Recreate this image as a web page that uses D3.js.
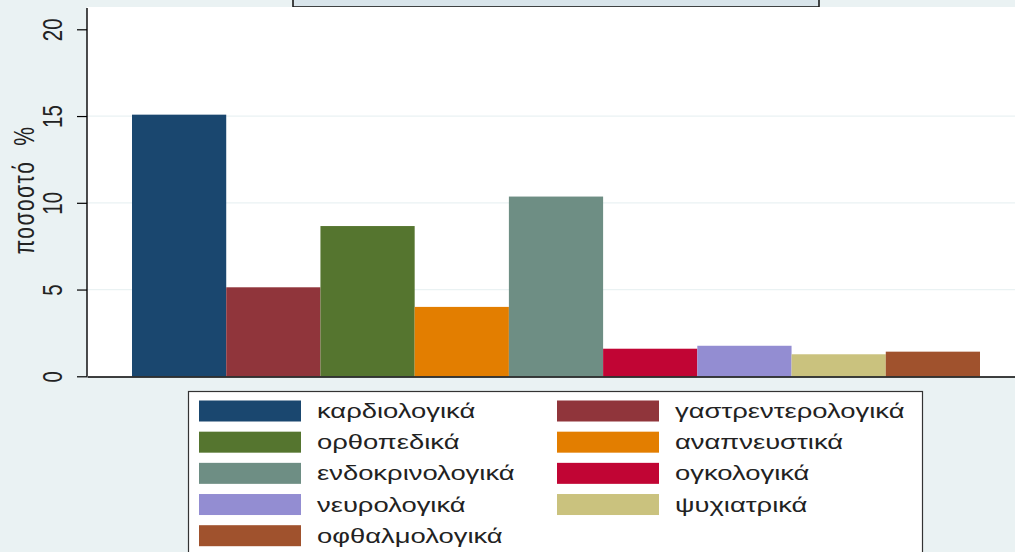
<!DOCTYPE html>
<html><head><meta charset="utf-8">
<script src="https://cdn.jsdelivr.net/npm/d3@7"></script>
<style>body{margin:0;background:#EAF2F3;}svg{display:block;}</style>
</head><body>
<svg id="chart" width="1015" height="552"></svg>
<script>
const categories = ["καρδιολογικά","γαστρεντερολογικά","ορθοπεδικά","αναπνευστικά","ενδοκρινολογικά","ογκολογικά","νευρολογικά","ψυχιατρικά","οφθαλμολογικά"];
const values = [15.08, 5.13, 8.66, 4.0, 10.36, 1.59, 1.76, 1.27, 1.42];
const colors = ["#1A476F","#90353B","#55752F","#E37E00","#6E8E84","#C10534","#938DD2","#CAC27E","#A0522D"];
const yTicks = [0, 5, 10, 15, 20];
const yGrid = [5, 10, 15];
const yTitle = "ποσοστό %";

const svg = d3.select("#chart");
const FONT = "'Liberation Sans', Arial, sans-serif";
const KX = 1.37;

svg.append("rect").attr("width",1015).attr("height",552).attr("fill","#EAF2F3");

// title box (cut off at top)
svg.append("rect").attr("x",293).attr("y",-20).attr("width",526).attr("height",27)
  .attr("fill","#D9E5EB").attr("stroke","#1a1a1a").attr("stroke-width",1.6);

const plotL = 87, plotR = 1015, plotT = 7, plotB = 376.5;
svg.append("rect").attr("x",plotL).attr("y",plotT).attr("width",plotR-plotL).attr("height",plotB-plotT).attr("fill","#fff");

const x = d3.scaleBand().domain(categories).range([132, 980]).padding(0);
const y = d3.scaleLinear().domain([0,20]).range([376.3, 29.3]);

// gridlines
svg.append("g").selectAll("line").data(yGrid).join("line")
  .attr("x1",plotL).attr("x2",plotR).attr("y1",d=>y(d)).attr("y2",d=>y(d))
  .attr("stroke","#EAF2F3").attr("stroke-width",1.2);

// bars
svg.append("g").selectAll("rect").data(categories).join("rect")
  .attr("x",d=>x(d)).attr("width",x.bandwidth())
  .attr("y",(d,i)=>y(values[i])).attr("height",(d,i)=>y(0)-y(values[i]))
  .attr("fill",(d,i)=>colors[i]);

// y axis
const yAxis = d3.axisLeft(y).tickValues(yTicks).tickSize(10).tickPadding(0).tickFormat(d3.format("d"));
const gy = svg.append("g").attr("transform",`translate(${plotL},0)`).call(yAxis);
gy.select(".domain").remove();
gy.selectAll(".tick line").attr("stroke","#000").attr("stroke-width",1.2);
gy.selectAll(".tick text").remove();
gy.selectAll(".tick").append("text")
  .attr("transform",`translate(-35,0) rotate(-90) scale(1,${KX})`)
  .attr("text-anchor","middle").attr("dy","0.35em")
  .attr("fill","#222").attr("font-family",FONT).attr("font-size",20.5)
  .text(d=>d);
svg.append("line").attr("x1",plotL).attr("x2",plotL).attr("y1",8).attr("y2",plotB)
  .attr("stroke","#000").attr("stroke-width",1.4);

// x axis line
const xAxis = d3.axisBottom(d3.scaleLinear().domain([0,1]).range([plotL,plotR])).tickValues([]).tickSizeOuter(0);
const gx = svg.append("g").attr("transform",`translate(0,${plotB})`).call(xAxis);
gx.select(".domain").attr("stroke","#000").attr("stroke-width",1.4);

// y title
svg.append("text")
  .attr("transform",`translate(24,190) rotate(-90) scale(1,${KX})`)
  .attr("text-anchor","middle").attr("dy","0.35em")
  .attr("fill","#222").attr("font-family",FONT).attr("font-size",21)
  .attr("letter-spacing",1.5).style("white-space","pre")
  .text(yTitle.replace(" ","  "));

// legend
svg.append("rect").attr("x",188.5).attr("y",391.5).attr("width",734).attr("height",200)
  .attr("fill","#fff").attr("stroke","#333").attr("stroke-width",1.2);
const colX = [199, 557];
const rowY = d3.scaleLinear().domain([0,4]).range([411, 535.7]);
const items = svg.append("g").selectAll("g").data(categories).join("g")
  .attr("transform",(d,i)=>`translate(${colX[i%2]},${rowY(Math.floor(i/2))})`);
items.append("rect").attr("x",0).attr("y",-10.5).attr("width",102).attr("height",21)
  .attr("fill",(d,i)=>colors[i]);
items.append("text").attr("transform",`translate(118,0) scale(${KX},1)`)
  .attr("dy","0.35em").attr("fill","#222").attr("font-family",FONT).attr("font-size",20)
  .text(d=>d);
</script>
</body></html>
